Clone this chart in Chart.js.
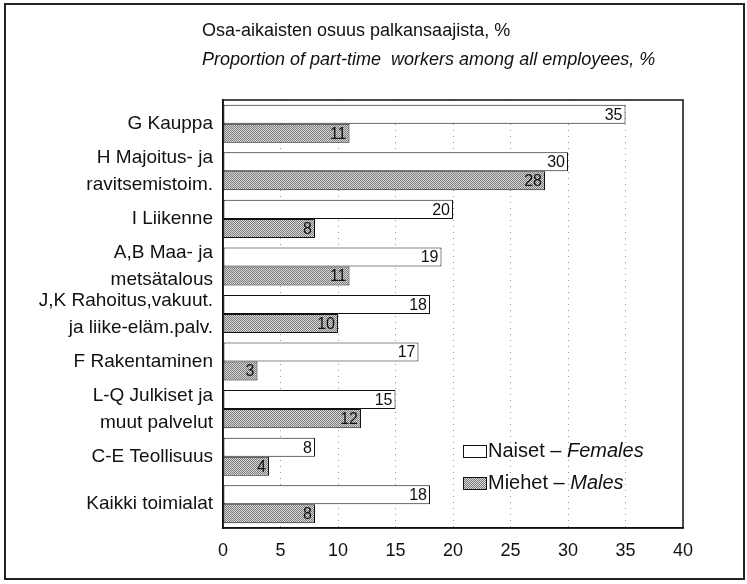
<!DOCTYPE html>
<html>
<head>
<meta charset="utf-8">
<script src="https://cdn.jsdelivr.net/npm/chart.js@4.4.1/dist/chart.umd.min.js"></script>
<style>
  body { margin: 0; background: #fff; font-family: "Liberation Sans", Arial, sans-serif; }
  #wrap { position: relative; width: 747px; height: 584px; }
  #frame { position: absolute; left: 4px; top: 3px; width: 737px; height: 573px; border: 2px solid #222; pointer-events: none; }
  #title { position: absolute; left: 202px; top: 16px; font-size: 18px; line-height: 29px; color: #111; }
  #legend { position: absolute; left: 463px; top: 434px; font-size: 20px; line-height: 32px; color: #111; }
  #legend .sw { display: inline-block; width: 22px; height: 11px; border: 1px solid #111; margin-right: 1px; vertical-align: -1px; }
  #legend .male { background: repeating-conic-gradient(#7a7a7a 0 25%, #d9d9d9 0 50%) 0 0 / 2px 2px; }
  canvas { position: absolute; left: 0; top: 0; }
</style>
</head>
<body>
<div id="wrap">
  <canvas id="chart" width="747" height="584"></canvas>
  <div id="title">
    <div>Osa-aikaisten osuus palkansaajista, %</div>
    <div><i>Proportion of part-time&nbsp; workers among all employees, %</i></div>
  </div>
  <div id="legend">
    <div><span class="sw"></span>Naiset – <i>Females</i></div>
    <div><span class="sw male"></span>Miehet – <i>Males</i></div>
  </div>
  <div id="frame"></div>
</div>
<script>
// Osa-aikaisten osuus palkansaajista toimialoittain
const categories = [
    'G Kauppa',
    ['H Majoitus- ja', 'ravitsemistoim.'],
    'I Liikenne',
    ['A,B Maa- ja', 'metsätalous'],
    ['J,K Rahoitus,vakuut.', 'ja liike-eläm.palv.'],
    'F Rakentaminen',
    ['L-Q Julkiset ja', 'muut palvelut'],
    'C-E Teollisuus',
    'Kaikki toimialat'
];
const females = [35, 30, 20, 19, 18, 17, 15, 8, 18];
const males = [11, 28, 8, 11, 10, 3, 12, 4, 8];
const xMin = 0;
const xMax = 40;
const xStep = 5;

const FONT = '"Liberation Sans", Arial, sans-serif';

// dithered grey fill like the printed original
function makePattern() {
    const c = document.createElement('canvas');
    c.width = 2;
    c.height = 2;
    const g = c.getContext('2d');
    g.fillStyle = '#d9d9d9';
    g.fillRect(0, 0, 2, 2);
    g.fillStyle = '#7a7a7a';
    g.fillRect(0, 0, 1, 1);
    g.fillRect(1, 1, 1, 1);
    return g.createPattern(c, 'repeat');
}

// box around the plot area
const plotBox = {
    id: 'plotBox',
    afterDraw(chart) {
        const { ctx, chartArea: a } = chart;
        ctx.save();
        ctx.strokeStyle = '#111';
        ctx.lineWidth = 1.5;
        ctx.strokeRect(a.left, a.top, a.right - a.left, a.bottom - a.top);
        ctx.restore();
    }
};

// value printed inside the end of each bar
const barValues = {
    id: 'barValues',
    afterDatasetsDraw(chart) {
        const ctx = chart.ctx;
        ctx.save();
        ctx.font = '16px ' + FONT;
        ctx.fillStyle = '#111';
        ctx.textAlign = 'right';
        ctx.textBaseline = 'middle';
        chart.data.datasets.forEach((ds, i) => {
            chart.getDatasetMeta(i).data.forEach((bar, j) => {
                ctx.fillText(String(ds.data[j]), bar.x - 3, bar.y + 1);
            });
        });
        ctx.restore();
    }
};

const ctx = document.getElementById('chart').getContext('2d');
new Chart(ctx, {
    type: 'bar',
    data: {
        labels: categories,
        datasets: [
            {
                label: 'Naiset – Females',
                data: females,
                backgroundColor: '#ffffff',
                borderColor: '#111',
                borderWidth: 1,
                borderSkipped: false
            },
            {
                label: 'Miehet – Males',
                data: males,
                backgroundColor: makePattern(),
                borderColor: '#111',
                borderWidth: 1,
                borderSkipped: false
            }
        ]
    },
    options: {
        indexAxis: 'y',
        responsive: false,
        animation: false,
        categoryPercentage: 0.8,
        barPercentage: 1.0,
        layout: {
            padding: { left: 10, right: 64, top: 100, bottom: 20 }
        },
        plugins: {
            legend: { display: false },
            tooltip: { enabled: false }
        },
        scales: {
            x: {
                min: xMin,
                max: xMax,
                afterFit: function(scale) { scale.height = 36; },
                ticks: {
                    stepSize: xStep,
                    color: '#111',
                    padding: 12,
                    maxRotation: 0,
                    font: { family: FONT, size: 18 }
                },
                grid: {
                    color: '#999',
                    lineWidth: 1,
                    drawTicks: false
                },
                border: {
                    display: true,
                    color: '#111',
                    width: 1.5,
                    dash: [1, 5]
                }
            },
            y: {
                afterFit: function(scale) { scale.width = 213; },
                ticks: {
                    autoSkip: false,
                    color: '#111',
                    padding: 10,
                    font: { family: FONT, size: 19, lineHeight: 1.4 }
                },
                grid: {
                    display: false,
                    drawTicks: false
                },
                border: {
                    display: true,
                    color: '#111',
                    width: 1.5
                }
            }
        }
    },
    plugins: [plotBox, barValues]
});
</script>
</body>
</html>
